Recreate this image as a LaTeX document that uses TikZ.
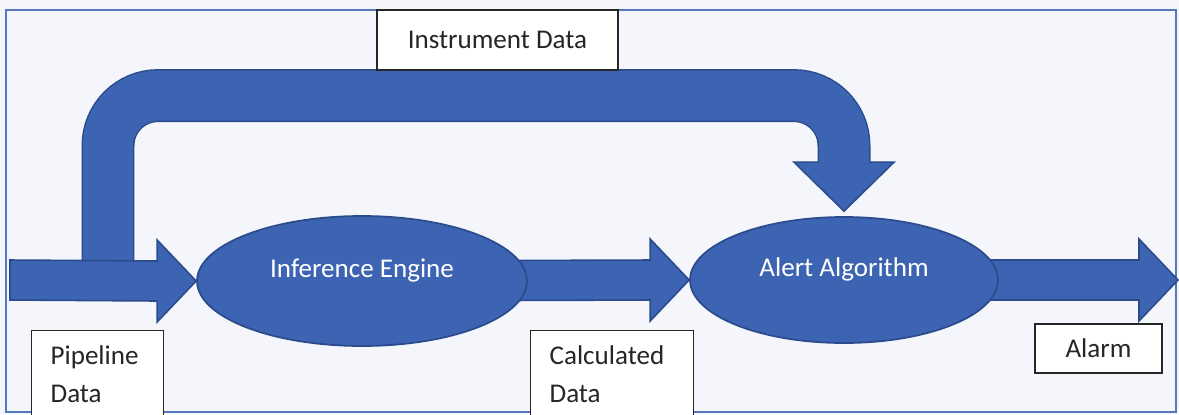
\documentclass[tikz,border=0pt]{standalone}
\usepackage{fontspec}
\setmainfont{Carlito}
\usetikzlibrary{shapes.geometric, calc, backgrounds}
\definecolor{flowblue}{HTML}{3D64B3}
\definecolor{flowedge}{HTML}{2B4C8C}
\definecolor{framepale}{HTML}{F4F6FB}
\definecolor{frameline}{HTML}{5677C0}

% block arrow: shaft starts at #1, tip at #2
\newcommand{\blockarrow}[2]{%
  \filldraw[arrowbody] ($(#1)+(0,-20)$) -- ($(#2)+(-39,-20)$) -- ($(#2)+(-39,-41)$)
    -- (#2) -- ($(#2)+(-39,41)$) -- ($(#2)+(-39,20)$) -- ($(#1)+(0,20)$) -- cycle;}

\begin{document}
\begin{tikzpicture}[x=0.02cm, y=-0.02cm,
    stage/.style={ellipse, fill=flowblue, draw=flowedge, line width=1pt, text=white,
      font=\fontsize{15.4}{18}\selectfont, text height=0.4cm, text depth=0.55cm},
    tagbox/.style={draw=black!85, fill=white, line width=0.7pt, text=black!85,
      font=\fontsize{15.4}{21.6}\selectfont},
    arrowbody/.style={fill=flowblue, draw=flowedge, line width=0.9pt, line join=miter}]
  \clip (0,0) rectangle (1179,414);
  % stages
  \node[stage, minimum width=6.6cm, minimum height=2.6cm] (infer) at (362,281) {Inference Engine};
  \node[stage, minimum width=6.16cm, minimum height=2.52cm] (alert) at (844,280) {Alert Algorithm};
  % labels
  \node[tagbox, minimum width=4.82cm, minimum height=1.2cm] (instr) at (497.5,40) {Instrument Data};
  \node[tagbox, anchor=north west, align=left, text width=1.88cm, inner xsep=0.38cm, inner ysep=0.3cm] (pipeline) at (31,330) {Pipeline\\Data};
  \node[tagbox, anchor=north west, align=left, text width=2.5cm, inner xsep=0.38cm, inner ysep=0.3cm] (calcdata) at (530,330) {Calculated\\Data};
  \node[tagbox, minimum width=2.54cm, minimum height=0.98cm] (alarm) at (1098.5,348.5) {Alarm};
  \coordinate (pipestart) at (10,280);
  \coordinate (alarmtip) at (1178,280);
  \coordinate (split) at (108,280);
  \coordinate (ridge) at ($(instr.south)+(0,25)$);
  \coordinate (droptip) at ($(alert.north)+(0,-5)$);

  \begin{scope}[on background layer]
    \fill[framepale] (0,0) rectangle (1179,414);
    \draw[frameline, line width=0.6pt] (6,10) rectangle (1176,412);
    % instrument data goes over the top
    \filldraw[arrowbody] ($(droptip)+(-50,-49)$) -- (droptip) -- ($(droptip)+(50,-49)$) -- cycle;
    \draw[flowedge, line width=1.06cm, rounded corners=1cm] (split) |- (droptip |- ridge) -- ($(droptip)+(0,-48)$);
    \draw[flowblue, line width=1.0cm, rounded corners=1cm] (split) |- (droptip |- ridge) -- ($(droptip)+(0,-48)$);
    \blockarrow{pipestart}{infer.west}
    \blockarrow{infer.center}{alert.west}
    \blockarrow{alert.center}{alarmtip}
  \end{scope}
\end{tikzpicture}
\end{document}
